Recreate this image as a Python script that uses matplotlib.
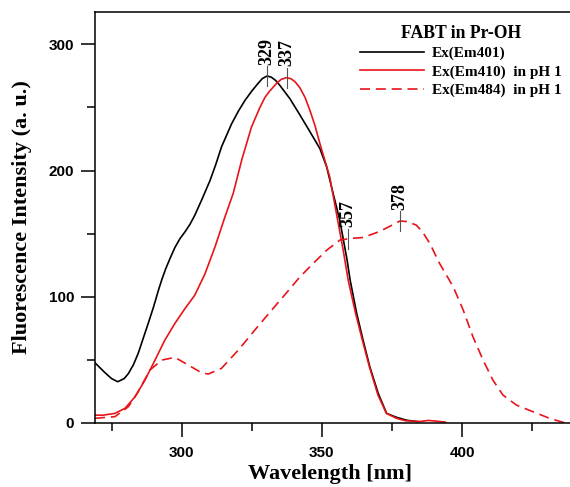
import matplotlib
matplotlib.use('Agg')
import matplotlib.pyplot as plt

# Ex(Em401)
wl_black = [269.1, 272.5, 275, 277.2, 279.5, 281, 282.8, 284.5, 286.3, 288.1,
            290, 291.7, 293, 294.3, 295.8, 297.6, 299.4, 301.2, 303, 304.7,
            307.1, 310.1, 312.2, 314.2, 317.8, 320.2, 322.6, 325, 327.2, 328.8,
            330.5, 332, 333.5, 335, 338.6, 342.2, 345.7, 349.3, 351.7, 354,
            356.4, 359, 360.1, 362.4, 364.7, 367.1, 370.1, 373.1, 376.6, 380.2,
            384.2]
int_black = [47.5, 40, 35, 32.5, 35, 39, 46, 55, 67, 79,
             92, 105, 114, 122, 130, 139, 146, 151.4, 157.5, 164.6,
             176.5, 192, 205, 218.7, 237, 247, 255.7, 263, 269, 273,
             275, 274, 271.5, 267.6, 257, 244, 231, 217.4, 203, 182,
             160.6, 129, 113, 87, 65.5, 44.4, 23.3, 7.4, 4.3, 2,
             0.8]

# Ex(Em410) in pH 1
wl_red = [269.1, 272, 276.2, 279.8, 283.4, 286.9, 290.5, 294, 297.6, 301.2,
          304.7, 308.3, 311.9, 315.4, 318.4, 321.5, 324.9, 327.9, 329.7, 331.2,
          332.6, 334, 335.5, 337.4, 339, 340.5, 342.2, 344, 345.7, 347.5,
          349.3, 352.8, 355.2, 357.6, 359.4, 362, 364.5, 367, 370, 373,
          376.6, 380, 385, 388, 391, 394]
int_red = [6, 6, 7.4, 11.4, 20.6, 33.8, 49.7, 65.5, 78.8, 90.6,
           101.2, 118, 139.5, 163, 182, 209, 234.5, 250, 258, 262.5,
           266, 269.5, 272.3, 273.7, 272.8, 270.3, 265.5, 258, 248, 236,
           221.4, 195, 166, 137, 113, 87, 65, 44, 22, 7.5,
           3.5, 1.5, 1, 1.8, 1.2, 0.5]

# Ex(Em484) in pH 1
wl_dash = [269.1, 276.2, 281, 284.5, 288.7, 292.9, 297.6, 302.4, 307.1, 309.5,
           314.2, 320.2, 326.1, 332.1, 337, 342.2, 346.9, 351.7, 356.4, 360,
           364.7, 370.3, 374, 377.9, 380.5, 383.7, 386, 388.5, 392, 396.8,
           400.3, 403.9, 407.5, 411, 414.6, 419.4, 425.3, 431.2, 436, 438.5]
int_dash = [3.5, 4.8, 12.7, 24.6, 41.8, 49.7, 51.8, 45.7, 39.6, 38.6,
            43.1, 57.6, 73.5, 89.3, 102, 115.7, 126.3, 136.8, 144.8, 146.1,
            146.9, 151.4, 155.5, 160, 159.5, 156.7, 151, 142.2, 126.3, 108,
            90, 68.1, 49.7, 33.8, 21.9, 14, 8.7, 3.5, 0.3, 0]

# peak markers
peak_wl = [330.5, 337.4, 359.2, 377.9]
peak_val = [275, 273.7, 146, 160]
peak_lbl = ['329', '337', '357', '378']

serif = 'Liberation Serif'
sans = 'Liberation Sans'
red = '#e8141a'

fig = plt.figure(figsize=(5.7, 4.87), dpi=100)
ax = fig.add_axes([0.1667, 0.132, 0.8333, 0.843])

ax.plot(wl_black, int_black, color='black', lw=1.2, label='Ex(Em401)')
ax.plot(wl_red, int_red, color=red, lw=1.2, label='Ex(Em410)  in pH 1')
ax.plot(wl_dash, int_dash, color=red, lw=1.2, ls=(0, (6, 3.5)),
        label='Ex(Em484)  in pH 1')

for x, y, t in zip(peak_wl, peak_val, peak_lbl):
    ax.plot([x, x], [y - 8, y + 8], color='#555555', lw=0.8)
    ax.text(x, y + 9, t, rotation=90, ha='center', va='bottom',
            fontsize=13, family=serif, fontweight='bold')

ax.set_xlim(269.1, 438.5)
ax.set_ylim(0, 325.6)
ax.set_xticks([300, 350, 400])
ax.set_xticks([275, 325, 375, 425], minor=True)
ax.set_yticks([0, 100, 200, 300])
ax.set_yticks([50, 150, 250], minor=True)

ax.spines['right'].set_visible(False)
for s in ['left', 'bottom', 'top']:
    ax.spines[s].set_linewidth(1.1)
ax.tick_params(which='major', direction='out', length=10, width=1.1, pad=5)
ax.tick_params(which='minor', direction='out', length=5.5, width=1.1)
ax.tick_params(axis='x', which='major', pad=7)
for lab in ax.get_xticklabels() + ax.get_yticklabels():
    lab.set_family(sans)
    lab.set_fontweight('bold')
    lab.set_fontsize(11)

ax.set_xlabel('Wavelength [nm]', family=serif, fontweight='bold', fontsize=16)
ax.set_ylabel('Fluorescence Intensity (a. u.)', family=serif,
              fontweight='bold', fontsize=16)
ax.xaxis.set_label_coords(0.495, -0.1)
ax.yaxis.set_label_coords(-0.133, 0.5)

leg = ax.legend(loc='upper right', bbox_to_anchor=(0.999, 0.988), frameon=False,
                title='FABT in Pr-OH', borderpad=0, handlelength=4.2,
                handletextpad=0.5, labelspacing=0.3,
                prop={'family': serif, 'weight': 'bold', 'size': 11},
                title_fontproperties={'family': serif, 'weight': 'bold', 'size': 12.7})

fig.savefig('out.png', dpi=100)
